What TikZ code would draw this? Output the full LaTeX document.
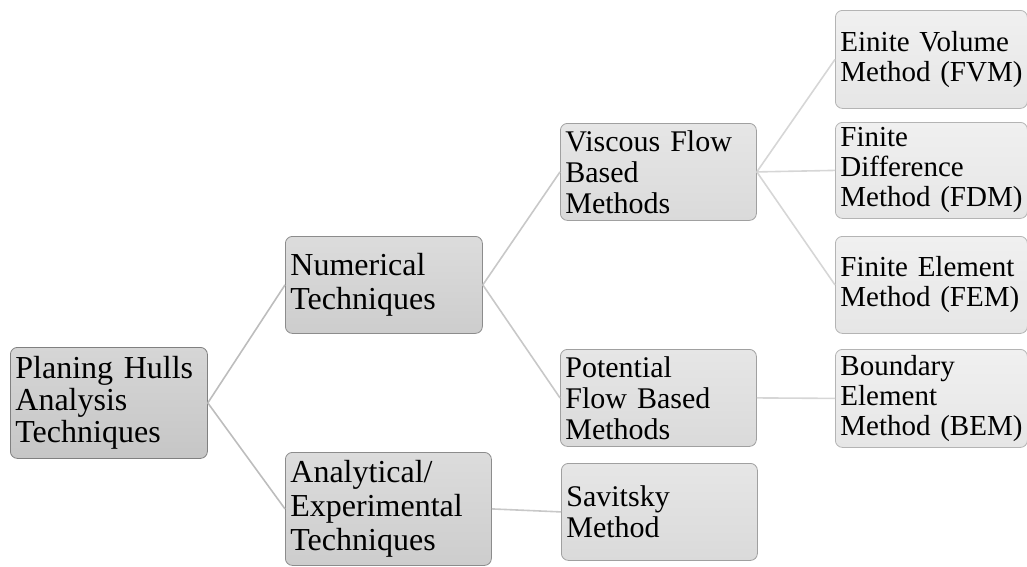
\documentclass[tikz,border=0pt]{standalone}
\usepackage{fontspec}
\setmainfont{Liberation Serif}
\usepackage{tikz}
\usepackage{xcolor}

\definecolor{bordA}{HTML}{808080}
\definecolor{bordB}{HTML}{8C8C8C}
\definecolor{bordC}{HTML}{A0A0A0}
\definecolor{bordD}{HTML}{B4B4B4}
\definecolor{fillAtop}{HTML}{D6D6D6}
\definecolor{fillAbot}{HTML}{C6C6C6}
\definecolor{fillBtop}{HTML}{DCDCDC}
\definecolor{fillBbot}{HTML}{CDCDCD}
\definecolor{fillCtop}{HTML}{E6E6E6}
\definecolor{fillCbot}{HTML}{DADADA}
\definecolor{fillDtop}{HTML}{F0F0F0}
\definecolor{fillDbot}{HTML}{E6E6E6}
\definecolor{linkA}{HTML}{BDBDBD}
\definecolor{linkB}{HTML}{C8C8C8}
\definecolor{linkC}{HTML}{D6D6D6}

\begin{document}
\begin{tikzpicture}
[
x=1pt, y=-1pt,
box/.style={draw, rounded corners=7pt, line width=0.8pt, anchor=north west, align=left,
            inner xsep=5pt, inner ysep=0pt},
box-a/.style={box, draw=bordA, top color=fillAtop, bottom color=fillAbot, minimum width=197pt, text width=187pt,
              font=\fontsize{32}{32}\selectfont},
box-b/.style={box, draw=bordB, top color=fillBtop, bottom color=fillBbot, minimum width=197pt, text width=187pt,
              font=\fontsize{32}{34}\selectfont},
box-b2/.style={box-b, minimum width=206pt, text width=196pt},
box-c/.style={box, draw=bordC, top color=fillCtop, bottom color=fillCbot, minimum width=196pt, text width=186pt,
              font=\fontsize{30}{31}\selectfont},
box-d/.style={box, draw=bordD, top color=fillDtop, bottom color=fillDbot, minimum width=192pt, text width=182pt,
              font=\fontsize{29}{30}\selectfont},
link-a/.style={draw=linkA, line width=1.6pt},
link-b/.style={draw=linkB, line width=1.6pt},
link-c/.style={draw=linkC, line width=1.6pt}
]
\useasboundingbox (0,0) rectangle (1027,566);

\node (hulls)     [box-a, minimum height=111pt] at (10,347)  {\mbox{Planing Hulls}\\Analysis\\Techniques};
\node (numeric)   [box-b, minimum height=97pt]  at (285,236) {Numerical\\Techniques};
\node (analytic)  [box-b2, minimum height=113pt] at (285,452) {Analytical/\\Experimental\\Techniques};
\node (viscous)   [box-c, minimum height=97pt]  at (560,123) {\mbox{Viscous Flow}\\Based\\Methods};
\node (potential) [box-c, minimum height=97pt]  at (560,349) {Potential\\\mbox{Flow Based}\\Methods};
\node (savitsky)  [box-c, minimum height=97pt]  at (561,463) {Savitsky\\Method};
\node (fvm)       [box-d, minimum height=98pt]  at (835,10)  {\mbox{Einite Volume}\\\mbox{Method (FVM)}};
\node (fdm)       [box-d, minimum height=96pt]  at (835,122) {Finite\\Difference\\\mbox{Method (FDM)}};
\node (fem)       [box-d, minimum height=97pt]  at (835,236) {\mbox{Finite Element}\\\mbox{Method (FEM)}};
\node (bem)       [box-d, minimum height=98pt]  at (835,349) {Boundary\\Element\\\mbox{Method (BEM)}};

% connectors
\draw [link-a] (hulls.east) -- (numeric.west);
\draw [link-a] (hulls.east) -- (analytic.west);
\draw [link-b] (numeric.east) -- (viscous.west);
\draw [link-b] (numeric.east) -- (potential.west);
\draw [link-b] (analytic.east) -- (savitsky.west);
\draw [link-c] (viscous.east) -- (fvm.west);
\draw [link-c] (viscous.east) -- (fdm.west);
\draw [link-c] (viscous.east) -- (fem.west);
\draw [link-c] (potential.east) -- (bem.west);
\end{tikzpicture}
\end{document}
